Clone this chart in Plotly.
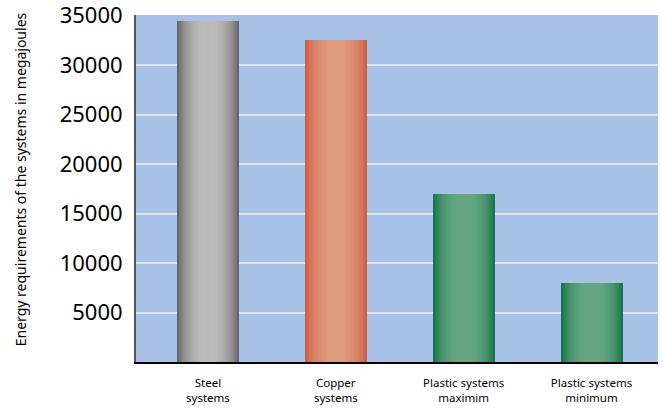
import plotly.graph_objects as go
import math

categories = ["Steel<br>systems", "Copper<br>systems", "Plastic systems<br>maximim", "Plastic systems<br>minimum"]
energy_mj = [34500, 32500, 17000, 8000]
y_ticks = [5000, 10000, 15000, 20000, 25000, 30000, 35000]

edge_colors = [(80, 80, 80), (200, 78, 50), (4, 108, 60), (4, 108, 60)]
center_colors = [(187, 187, 187), (224, 154, 126), (102, 165, 132), (102, 165, 132)]

BAR_W = 0.485
N = 31

def mix(a, b, s):
    return "rgb(%d,%d,%d)" % tuple(round(a[k] + (b[k] - a[k]) * s) for k in range(3))

def shade(t):
    # cylinder-like highlight profile across the bar
    return min(1.0, math.sin(math.pi * t) ** 0.55 * 1.03)

fig = go.Figure()
sw = BAR_W / N
for i in range(N):
    t = (i + 0.5) / N
    s = shade(t)
    cols = [mix(e, c, s) for e, c in zip(edge_colors, center_colors)]
    fig.add_trace(go.Bar(
        x=categories, y=energy_mj,
        width=sw * 1.08, offset=-BAR_W / 2 + i * sw,
        marker=dict(color=cols, line=dict(width=0)),
        showlegend=False, hoverinfo="skip",
    ))

fig.update_layout(
    width=663, height=408,
    margin=dict(l=136, r=5, t=15, b=46, autoexpand=False),
    paper_bgcolor="white",
    plot_bgcolor="#a7c2e6",
    barmode="overlay",
    bargap=0,
    font=dict(family="Noto Sans", color="black"),
    showlegend=False,
)
fig.update_xaxes(
    range=[-0.5625, 3.52],
    showgrid=False,
    showline=True, linecolor="black", linewidth=2,
    ticks="outside", ticklen=9, tickcolor="rgba(0,0,0,0)",
    tickfont=dict(size=11.5, family="Noto Sans"),
    automargin=False,
)
fig.update_yaxes(
    range=[0, 35060],
    tickvals=y_ticks,
    ticktext=[str(v) for v in y_ticks],
    showgrid=True, gridcolor="#dbe5f3", gridwidth=1.5,
    zeroline=False,
    showline=True, linecolor="#555555", linewidth=2,
    ticks="outside", ticklen=7, tickcolor="rgba(0,0,0,0)",
    tickfont=dict(size=22, family="Noto Sans"),
    ticklabeloverflow="allow",
    automargin=False,
)
fig.add_annotation(
    text="Energy requirements of the systems in megajoules",
    xref="paper", yref="paper", x=-0.222, y=0.527,
    xanchor="center", yanchor="middle",
    textangle=-90, showarrow=False,
    font=dict(size=14, family="Noto Sans"),
)
fig.write_html("out.html", config={"displayModeBar": False},
               post_script="document.body.style.margin='0';")
